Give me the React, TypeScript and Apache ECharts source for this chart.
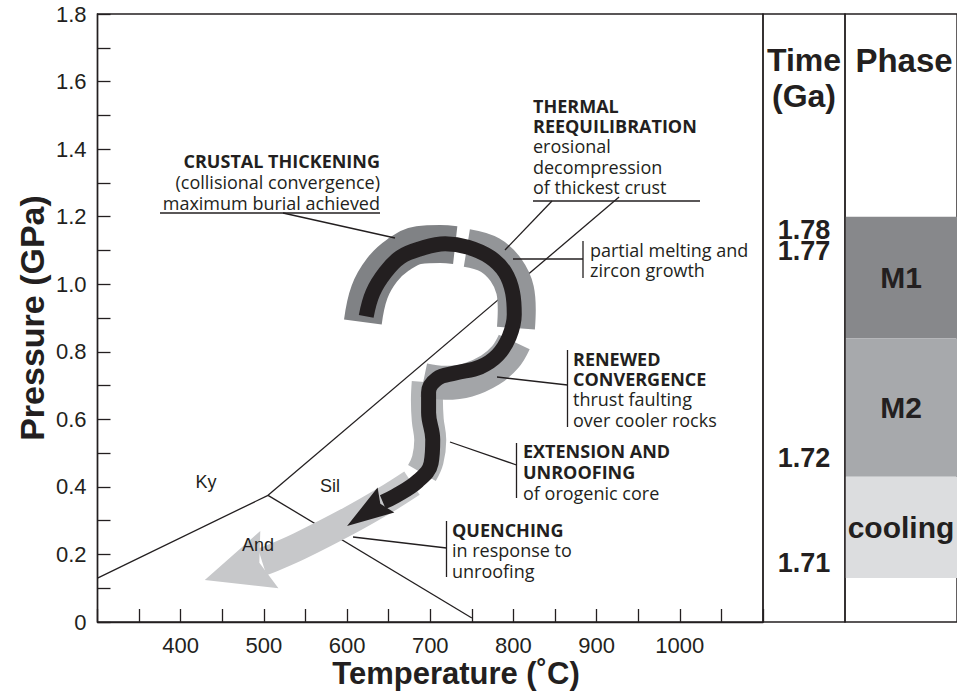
import React, { useEffect, useRef } from "react";
import * as echarts from "echarts";

// ---------- axes ----------
const tempMin = 300;
const tempMax = 1100;
const tempTickStep = 50;
const tempLabelValues = [400, 500, 600, 700, 800, 900, 1000];
const pressureMin = 0;
const pressureMax = 1.8;
const pressureTickStep = 0.1;

// ---------- Al2SiO5 phase boundaries [T (°C), P (GPa)] ----------
const andKyLine = [[300, 0.13], [505, 0.375]];
const kySilLine = [[505, 0.375], [927, 1.258]];
const andSilLine = [[505, 0.375], [750, 0.012]];
const fieldNames = ["Ky", "Sil", "And"];

// ---------- P-T path (black) ----------
const ptPath = [
  [623, 0.905], [631, 0.975], [646, 1.035], [664, 1.08], [688, 1.105], [718, 1.12],
  [745, 1.11], [772, 1.08], [790, 1.035], [799, 0.975], [801, 0.91], [795, 0.845],
  [781, 0.79], [760, 0.755], [730, 0.737], [708, 0.72], [698, 0.68], [698, 0.62],
  [703, 0.54], [701, 0.47], [685, 0.417], [658, 0.373], [643, 0.355],
];
const ptPathTip = [600, 0.284];

// ---------- gray stages along the path ----------
const stageThickening = [[619, 0.888], [627, 0.977], [642, 1.042], [661, 1.086], [686, 1.116], [712, 1.119], [730, 1.116]];
const stageReequilibration = [[744, 1.107], [772, 1.086], [791, 1.042], [802, 0.983], [804, 0.924], [803, 0.87]];
const stageRenewed = [[801, 0.829], [790, 0.784], [772, 0.746], [745, 0.716], [718, 0.708], [692, 0.716]];
const stageExtension = [[697, 0.71], [696, 0.657], [697, 0.598], [700, 0.539], [697, 0.48], [690, 0.441]];
const stageQuenching = [[678, 0.411], [646, 0.361], [604, 0.302], [543, 0.225], [507, 0.186], [498, 0.178]];
const stageQuenchingTip = [429, 0.124];

// ---------- Time / Phase columns ----------
const timeLabels = ["1.78", "1.77", "1.72", "1.71"];
const timePressure = [1.161, 1.098, 0.486, 0.175];
const phaseNames = ["M1", "M2", "cooling"];
const phaseTop = [1.2, 0.84, 0.43];
const phaseBottom = [0.84, 0.43, 0.13];

const INK = "#231f20";
const SANS = '"Liberation Sans", Arial, Helvetica, sans-serif';
const NOTE = '"Open Sans", "Noto Sans", sans-serif';
const phaseColors = ["#87888b", "#a7a9ac", "#dcdddf"];

type NoteLine = { text: string; bold?: boolean };

function noteBlock(lines: NoteLine[], x: number, y0: number, lh: number, align: "left" | "right") {
  return lines.map((l, i) => ({
    type: "text",
    x,
    y: y0 + i * lh,
    z: 100,
    silent: true,
    style: {
      text: l.text,
      align,
      verticalAlign: "middle",
      fontFamily: NOTE,
      fontSize: 18,
      lineHeight: Math.floor(lh),
      fontWeight: l.bold ? "bold" : "normal",
      fill: INK,
    },
  }));
}

function seg(x1: number, y1: number, x2: number, y2: number, w = 1.3) {
  return { type: "line", z: 100, silent: true, shape: { x1, y1, x2, y2 }, style: { stroke: INK, lineWidth: w } };
}

function label(text: string, x: number, y: number, size: number, bold: boolean, extra: any = {}, lh?: number) {
  return {
    type: "text", x, y, z: 100, silent: true, ...extra,
    style: {
      text, align: "center", verticalAlign: "middle", fontFamily: SANS, fontSize: size,
      lineHeight: lh ?? Math.round(size * 1.15),
      fontWeight: bold ? "bold" : "normal", fill: INK,
    },
  };
}

function bandSeries(data: number[][], color: string, width: number, z: number) {
  return {
    type: "line",
    xAxisIndex: 0,
    yAxisIndex: 0,
    data,
    smooth: 0.4,
    symbol: "none",
    silent: true,
    z,
    lineStyle: { color, width, cap: "butt", join: "round" },
  };
}

function arrowSeries(base: number[], tip: number[], color: string, halfWidth: number, z: number) {
  return {
    type: "custom",
    xAxisIndex: 0,
    yAxisIndex: 0,
    silent: true,
    z,
    data: [[base[0], base[1], tip[0], tip[1]]],
    encode: { x: [0, 2], y: [1, 3] },
    renderItem: (params: any, api: any) => {
      const b = api.coord([api.value(0), api.value(1)]);
      const t = api.coord([api.value(2), api.value(3)]);
      const dx = t[0] - b[0];
      const dy = t[1] - b[1];
      const len = Math.hypot(dx, dy);
      const ux = dx / len;
      const uy = dy / len;
      const px = -uy;
      const py = ux;
      const back = halfWidth * 0.25;
      return {
        type: "polygon",
        shape: {
          points: [
            t,
            [b[0] + px * halfWidth - ux * back, b[1] + py * halfWidth - uy * back],
            [b[0] + ux * 3, b[1] + uy * 3],
            [b[0] - px * halfWidth - ux * back, b[1] - py * halfWidth - uy * back],
          ],
        },
        style: { fill: color },
      };
    },
  };
}

export default function App() {
  const ref = useRef<HTMLDivElement>(null);

  useEffect(() => {
    if (!ref.current) return;
    const chart = echarts.init(ref.current, undefined, { renderer: "svg" });

    const thinLine = { color: INK, width: 1.3 };
    const boundary = (data: number[][]) => ({
      type: "line",
      xAxisIndex: 0,
      yAxisIndex: 0,
      data,
      symbol: "none",
      silent: true,
      z: 2,
      lineStyle: thinLine,
    });

    const graphics: any[] = [
      // axis titles
      label("Temperature (˚C)", 456, 673, 31, true, {}, 26),
      label("Pressure (GPa)", 32, 318, 34, true, { rotation: Math.PI / 2 }, 28),
      // column headers
      label("Time", 804, 60, 32, true, {}, 32),
      label("(Ga)", 804, 96, 32, true, {}, 32),
      label("Phase", 904, 60, 33, true, {}, 32),
      // field labels
      ...[[206, 482], [330, 486], [258, 545]].map((p, i) => label(fieldNames[i], p[0], p[1], 18, false)),
      // CRUSTAL THICKENING
      ...noteBlock(
        [
          { text: "CRUSTAL THICKENING", bold: true },
          { text: "(collisional convergence)" },
          { text: "maximum burial achieved" },
        ],
        380, 161, 21, "right"
      ),
      seg(160, 213, 380, 213),
      seg(283, 213, 395, 238),
      // THERMAL REEQUILIBRATION
      ...noteBlock(
        [
          { text: "THERMAL", bold: true },
          { text: "REEQUILIBRATION", bold: true },
          { text: "erosional" },
          { text: "decompression" },
          { text: "of thickest crust" },
        ],
        533, 106, 20.2, "left"
      ),
      seg(533, 201, 700, 201),
      seg(552, 201, 505, 250),
      // partial melting
      ...noteBlock([{ text: "partial melting and" }, { text: "zircon growth" }], 590, 250, 20, "left"),
      seg(583, 241, 583, 278),
      seg(513, 259, 583, 259),
      // RENEWED CONVERGENCE
      ...noteBlock(
        [
          { text: "RENEWED", bold: true },
          { text: "CONVERGENCE", bold: true },
          { text: "thrust faulting" },
          { text: "over cooler rocks" },
        ],
        573, 359, 20.2, "left"
      ),
      seg(567.5, 350, 567.5, 427),
      seg(497, 377, 567.5, 385),
      // EXTENSION AND UNROOFING
      ...noteBlock(
        [{ text: "EXTENSION AND", bold: true }, { text: "UNROOFING", bold: true }, { text: "of orogenic core" }],
        523, 451, 21, "left"
      ),
      seg(516.5, 443, 516.5, 498),
      seg(450, 442, 516.5, 465),
      // QUENCHING
      ...noteBlock([{ text: "QUENCHING", bold: true }, { text: "in response to" }, { text: "unroofing" }], 452, 530, 20.3, "left"),
      seg(446.5, 521, 446.5, 577),
      seg(353, 537, 446.5, 548),
    ];

    const option: any = {
      animation: false,
      backgroundColor: "#ffffff",
      grid: [
        { left: 97.5, top: 14, width: 665.5, height: 608, show: true, borderColor: INK, borderWidth: 1.4, backgroundColor: "transparent" },
        { left: 763, top: 14, width: 82, height: 608, show: true, borderColor: INK, borderWidth: 1.4, backgroundColor: "transparent" },
        { left: 845, top: 14, width: 122, height: 608, show: true, borderColor: INK, borderWidth: 1.4, backgroundColor: "transparent" },
      ],
      xAxis: [
        {
          type: "value", gridIndex: 0, min: tempMin, max: tempMax, interval: tempTickStep,
          axisLine: { show: true, lineStyle: { color: INK, width: 1.4 } },
          axisTick: { show: true, inside: true, length: 13, lineStyle: { color: INK, width: 1.3 } },
          splitLine: { show: false },
          axisLabel: {
            color: INK, fontFamily: SANS, fontSize: 22, lineHeight: 22, margin: 12,
            formatter: (v: number) => (tempLabelValues.indexOf(Math.round(v)) >= 0 ? String(Math.round(v)) : ""),
          },
        },
        { type: "value", gridIndex: 1, min: 0, max: 1, show: false },
        { type: "value", gridIndex: 2, min: 0, max: 1, show: false },
      ],
      yAxis: [
        {
          type: "value", gridIndex: 0, min: pressureMin, max: pressureMax, interval: pressureTickStep,
          axisLine: { show: true, lineStyle: { color: INK, width: 1.4 } },
          axisTick: { show: true, inside: true, length: 13, lineStyle: { color: INK, width: 1.3 } },
          splitLine: { show: false },
          axisLabel: {
            color: INK, fontFamily: SANS, fontSize: 22, margin: 11,
            formatter: (v: number) => {
              const k = Math.round(v * 10);
              if (k % 2 !== 0) return "";
              return k === 0 ? "0" : (k / 10).toFixed(1);
            },
          },
        },
        { type: "value", gridIndex: 1, min: pressureMin, max: pressureMax, show: false },
        { type: "value", gridIndex: 2, min: pressureMin, max: pressureMax, show: false },
      ],
      series: [
        boundary(andKyLine),
        boundary(kySilLine),
        boundary(andSilLine),
        bandSeries(stageQuenching, "#c7c8ca", 28, 3),
        arrowSeries(stageQuenching[stageQuenching.length - 1], stageQuenchingTip, "#c7c8ca", 30, 3),
        bandSeries(stageExtension, "#b3b5b7", 32, 4),
        bandSeries(stageRenewed, "#a3a5a8", 34, 4),
        bandSeries(stageReequilibration, "#939598", 38, 4),
        bandSeries(stageThickening, "#808285", 38, 4),
        bandSeries(ptPath, INK, 15, 6),
        arrowSeries(ptPath[ptPath.length - 1], ptPathTip, INK, 15, 6),
        {
          type: "custom",
          xAxisIndex: 1,
          yAxisIndex: 1,
          silent: true,
          data: timePressure.map((p, i) => [0.5, p, i]),
          encode: { x: 0, y: 1 },
          renderItem: (params: any, api: any) => {
            const c = api.coord([api.value(0), api.value(1)]);
            return {
              type: "text",
              x: c[0],
              y: c[1],
              style: {
                text: timeLabels[params.dataIndex],
                align: "center",
                verticalAlign: "middle",
                fontFamily: SANS,
                fontSize: 27,
                lineHeight: 20,
                fontWeight: "bold",
                fill: INK,
              },
            };
          },
        },
        {
          type: "custom",
          xAxisIndex: 2,
          yAxisIndex: 2,
          silent: true,
          z: 1,
          data: phaseTop.map((t, i) => [phaseBottom[i], t]),
          encode: { y: [0, 1] },
          renderItem: (params: any, api: any) => {
            const tl = api.coord([0, api.value(1)]);
            const br = api.coord([1, api.value(0)]);
            const i = params.dataIndex;
            return {
              type: "group",
              children: [
                {
                  type: "rect",
                  shape: { x: tl[0] + 0.8, y: tl[1], width: br[0] - tl[0], height: br[1] - tl[1] },
                  style: { fill: phaseColors[i] },
                },
                {
                  type: "text",
                  x: (tl[0] + br[0]) / 2,
                  y: (tl[1] + br[1]) / 2,
                  style: {
                    text: phaseNames[i],
                    align: "center",
                    verticalAlign: "middle",
                    fontFamily: SANS,
                    fontSize: 30,
                    fontWeight: "bold",
                    fill: INK,
                  },
                },
              ],
            };
          },
        },
      ],
      graphic: graphics,
    };

    chart.setOption(option);
    return () => chart.dispose();
  }, []);

  return <div ref={ref} style={{ position: "absolute", left: 0, top: 0, width: 957, height: 695, background: "#fff" }} />;
}
